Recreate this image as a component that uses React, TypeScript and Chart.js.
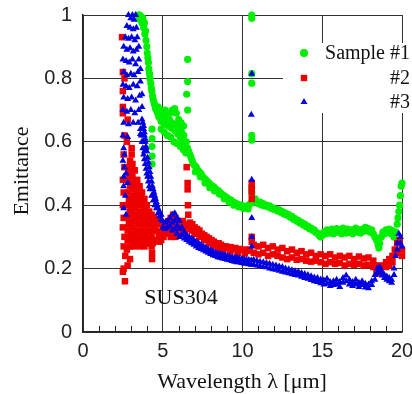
import React, { useEffect, useRef } from "react";
import { Chart, registerables } from "chart.js";
Chart.register(...registerables);

type P = [number, number];

const seriesNames = ["Sample #1", "#2", "#3"];
const xTickValues = [0, 5, 10, 15, 20];
const yTickValues = [0, 0.2, 0.4, 0.6, 0.8, 1];
const annotationText = "SUS304";
const xTitle = "Wavelength \u03bb [\u03bcm]";
const yTitle = "Emittance";

// Sample #1 (green circles)
const sample1Rise: P[] = [
  [3.45,1.0],[3.5,0.99],[3.55,1.0],[3.6,0.985],[3.65,0.995],[3.7,0.975],[3.75,0.99],[3.8,0.96],[3.85,0.975],[3.88,0.94],
  [3.92,0.95],[3.95,0.92],[4.0,0.9],[4.03,0.88],[4.07,0.865],[4.1,0.85],[4.13,0.83],[4.17,0.815],[4.2,0.8],[4.25,0.785],
  [4.28,0.77],[4.32,0.76],[4.36,0.745],[4.4,0.735],[4.45,0.725],[4.5,0.715],[4.55,0.705],[4.6,0.7],[4.68,0.69],[4.75,0.68],
  [4.83,0.675],[4.9,0.665],[4.98,0.67],[5.05,0.66],[5.12,0.675],[5.2,0.655],[5.28,0.665],[5.35,0.65],[5.42,0.67],[5.5,0.645],
  [5.58,0.66],[5.65,0.64],[5.72,0.655],[5.8,0.635],[5.88,0.65],[5.95,0.625],[6.02,0.64],[6.1,0.615],[6.18,0.63],[6.25,0.605],
  [6.32,0.62],[6.4,0.595],[6.48,0.6],[6.55,0.58],[6.62,0.57],[6.7,0.56],[6.78,0.55],[6.85,0.54],[6.92,0.53],[7.0,0.525],
  [4.7,0.71],[4.85,0.7],[5.0,0.69],[5.15,0.7],[5.3,0.685],[5.45,0.69],[5.6,0.7],[5.75,0.705],[5.85,0.69],[6.0,0.67],
  [6.15,0.66],[6.3,0.65],[4.9,0.64],[5.1,0.63],[5.3,0.62],[5.5,0.615],[5.7,0.6],[5.9,0.595],[6.1,0.585],[6.3,0.575],[6.45,0.565],
  [4.33,0.64],[4.33,0.61],[4.33,0.585],[4.33,0.555],[4.33,0.53],
  [6.56,0.86],[6.56,0.79],[6.5,0.75],[6.56,0.7],
];
const sample1Mid: P[] = [
  [7.1,0.52],[7.2,0.51],[7.3,0.505],[7.4,0.5],[7.5,0.49],[7.6,0.485],[7.7,0.48],[7.8,0.475],[7.9,0.47],[8.0,0.465],
  [8.1,0.46],[8.2,0.458],[8.3,0.452],[8.4,0.448],[8.5,0.445],[8.6,0.44],[8.7,0.435],[8.8,0.432],[8.9,0.428],[9.0,0.425],
  [9.1,0.42],[9.2,0.418],[9.3,0.415],[9.4,0.41],[9.5,0.408],[9.6,0.405],[9.7,0.403],[9.8,0.4],[9.9,0.4],[10.0,0.398],
  [10.1,0.396],[10.2,0.395],[10.3,0.397],[10.4,0.4],[10.5,0.405],
  [7.05,0.505],[7.35,0.49],[7.65,0.47],[7.95,0.455],[8.25,0.445],[8.55,0.435],[8.85,0.42],[9.15,0.41],[9.45,0.4],
  [9.75,0.395],[10.05,0.39],[10.35,0.388],
  [10.58,1.0],[10.58,0.99],[10.58,0.815],[10.58,0.785],[10.58,0.62],[10.58,0.605],[10.58,0.455],[10.58,0.44],
];
const sample1Tail: P[] = [
  [10.7,0.41],[10.8,0.42],[10.9,0.41],[11.0,0.405],[11.1,0.41],[11.2,0.4],[11.3,0.405],[11.4,0.398],[11.5,0.4],[11.6,0.395],
  [11.7,0.398],[11.8,0.39],[11.9,0.392],[12.0,0.386],[12.1,0.388],[12.2,0.382],[12.3,0.385],[12.4,0.378],[12.5,0.38],[12.6,0.372],
  [12.7,0.375],[12.8,0.368],[12.9,0.37],[13.0,0.362],[13.1,0.365],[13.2,0.356],[13.3,0.358],[13.4,0.35],[13.5,0.352],[13.6,0.344],
  [13.7,0.346],[13.8,0.338],[13.9,0.34],[14.0,0.332],[14.1,0.334],[14.2,0.326],[14.3,0.328],[14.4,0.32],[14.5,0.322],[14.6,0.314],
  [14.7,0.312],[14.8,0.305],[14.9,0.3],[15.0,0.305],[15.1,0.315],[15.2,0.31],[15.3,0.322],[15.4,0.312],[15.5,0.318],[15.6,0.325],
  [15.7,0.31],[15.8,0.318],[15.9,0.326],[16.0,0.315],[16.1,0.322],[16.2,0.31],[16.3,0.328],[16.4,0.318],[16.5,0.312],[16.6,0.325],
  [16.7,0.316],[16.8,0.322],[16.9,0.31],[17.0,0.32],[17.1,0.328],[17.2,0.315],[17.3,0.322],[17.4,0.312],[17.5,0.324],[17.6,0.318],
  [17.7,0.33],[17.8,0.32],[17.9,0.326],[18.0,0.315],[18.1,0.322],[18.2,0.31],[18.3,0.3],[18.4,0.29],[18.5,0.275],[18.55,0.265],
  [18.6,0.28],[18.7,0.3],[18.8,0.315],[18.9,0.31],[19.0,0.322],[19.1,0.315],[19.2,0.325],[19.3,0.31],[19.4,0.32],[19.5,0.3],
  [19.6,0.315],[19.7,0.34],[19.75,0.36],[19.8,0.38],[19.85,0.4],[19.9,0.43],[19.95,0.46],[20.0,0.47],
];

// Sample #2 (red squares)
const sample2Rise: P[] = [
  [2.45,0.93],[2.5,0.82],[2.6,0.8],[2.5,0.76],[2.5,0.71],[2.5,0.69],[2.8,0.67],[2.75,0.6],[2.6,0.62],[3.05,0.58],
  [3.05,0.56],[2.55,0.56],[2.6,0.52],[2.5,0.48],[2.55,0.44],[2.5,0.4],[2.55,0.36],[2.5,0.33],[2.6,0.3],[2.55,0.27],
  [2.65,0.24],[2.55,0.2],[2.5,0.19],[2.63,0.16],[2.8,0.21],[2.95,0.23],[2.75,0.26],[3.35,0.28],
  [2.8,0.52],[2.8,0.48],[2.8,0.44],[2.8,0.4],[2.8,0.36],[2.8,0.32],[2.8,0.29],
  [2.95,0.54],[2.95,0.5],[2.95,0.46],[2.95,0.42],[2.95,0.38],[2.95,0.34],[2.95,0.3],[2.95,0.27],
  [3.1,0.53],[3.1,0.49],[3.1,0.45],[3.1,0.41],[3.1,0.37],[3.1,0.33],[3.1,0.29],
  [3.25,0.51],[3.25,0.47],[3.25,0.43],[3.25,0.39],[3.25,0.35],[3.25,0.31],[3.25,0.28],
  [3.4,0.48],[3.4,0.44],[3.4,0.4],[3.4,0.36],[3.4,0.32],[3.4,0.29],
  [3.55,0.46],[3.55,0.42],[3.55,0.38],[3.55,0.34],[3.55,0.3],[3.55,0.27],
  [3.7,0.44],[3.7,0.4],[3.7,0.36],[3.7,0.32],[3.7,0.28],
  [3.85,0.42],[3.85,0.38],[3.85,0.34],[3.85,0.3],[3.85,0.27],
  [4.0,0.4],[4.0,0.36],[4.0,0.32],[4.0,0.29],
  [4.15,0.38],[4.15,0.35],[4.15,0.31],[4.15,0.28],
  [4.3,0.37],[4.3,0.34],[4.3,0.3],[4.3,0.27],
  [4.45,0.36],[4.45,0.33],[4.45,0.29],
  [4.6,0.35],[4.6,0.32],[4.6,0.29],
  [4.75,0.34],[4.75,0.31],[4.75,0.285],
  [4.9,0.345],[4.9,0.315],[4.9,0.29],
  [2.88,0.5],[2.88,0.42],[2.88,0.34],[3.02,0.47],[3.02,0.39],[3.02,0.31],[3.17,0.51],[3.17,0.43],[3.17,0.35],[3.17,0.27],
  [3.32,0.45],[3.32,0.37],[3.32,0.3],[3.47,0.42],[3.47,0.34],[3.47,0.28],[3.62,0.44],[3.62,0.36],[3.62,0.29],
  [3.77,0.38],[3.77,0.3],[3.92,0.4],[3.92,0.32],[3.92,0.28],[4.07,0.34],[4.07,0.3],[4.22,0.36],[4.22,0.29],[4.37,0.32],[4.37,0.28],
  [4.33,0.25],[4.33,0.23],
];
const sample2Mid: P[] = [
  [5.05,0.33],[5.05,0.3],[5.2,0.34],[5.2,0.31],[5.35,0.35],[5.35,0.32],[5.5,0.36],[5.5,0.33],[5.5,0.3],[5.65,0.37],
  [5.65,0.34],[5.65,0.31],[5.8,0.36],[5.8,0.33],[5.8,0.3],[5.95,0.35],[5.95,0.32],[6.1,0.34],[6.1,0.31],[6.25,0.35],
  [6.25,0.32],[6.4,0.34],[6.4,0.31],[6.55,0.33],[6.7,0.345],[6.7,0.325],[6.85,0.34],[6.85,0.32],[7.0,0.33],[7.0,0.31],
  [7.15,0.325],[7.3,0.32],[7.3,0.3],[7.45,0.31],[7.6,0.305],[7.6,0.29],[7.75,0.3],[7.9,0.295],[7.9,0.28],[8.05,0.29],
  [8.2,0.285],[8.2,0.27],[8.35,0.28],[8.5,0.28],[8.5,0.265],[8.65,0.275],[8.8,0.27],[8.8,0.258],[8.95,0.27],[9.1,0.265],
  [9.25,0.268],[9.25,0.255],[9.4,0.262],[9.55,0.265],[9.7,0.26],[9.7,0.25],[9.85,0.262],[10.0,0.258],[10.15,0.26],
  [10.15,0.248],[10.3,0.256],[10.45,0.26],
  [6.5,0.52],[6.56,0.47],[6.56,0.45],[6.58,0.4],[6.6,0.37],
  [10.58,0.47],[10.58,0.455],[10.58,0.44],[10.58,0.42],[10.58,0.3],[10.58,0.285],
];
const sample2Tail: P[] = [
  [10.7,0.275],[10.7,0.25],[11.0,0.27],[11.0,0.245],[11.3,0.275],[11.3,0.25],[11.6,0.265],[11.6,0.24],[11.9,0.27],[11.9,0.245],
  [12.2,0.26],[12.2,0.24],[12.5,0.265],[12.5,0.235],[12.8,0.255],[12.8,0.23],[13.1,0.26],[13.1,0.235],[13.4,0.25],[13.4,0.228],
  [13.7,0.255],[13.7,0.23],[14.0,0.245],[14.0,0.225],[14.3,0.25],[14.3,0.222],[14.6,0.24],[14.6,0.225],[14.9,0.245],[14.9,0.22],
  [15.2,0.24],[15.2,0.215],[15.5,0.245],[15.5,0.22],[15.8,0.235],[15.8,0.215],[16.1,0.24],[16.1,0.218],[16.4,0.235],[16.4,0.21],
  [16.7,0.24],[16.7,0.215],[17.0,0.23],[17.0,0.212],[17.3,0.238],[17.3,0.215],[17.6,0.232],[17.6,0.21],[17.9,0.235],[17.9,0.212],
  [18.2,0.225],[18.2,0.205],[18.4,0.21],[18.4,0.195],[18.6,0.2],[18.6,0.185],[18.8,0.21],[19.0,0.22],[19.0,0.205],[19.2,0.23],
  [19.2,0.21],[19.4,0.24],[19.4,0.22],[19.55,0.26],[19.7,0.28],[19.7,0.25],[19.85,0.29],[20.0,0.26],[20.0,0.24],
];

// Sample #3 (blue triangles)
const sample3Rise: P[] = [
  [2.85,1.0],[3.0,0.99],[3.1,1.0],[3.2,0.985],[3.3,1.0],[2.75,0.965],[2.95,0.96],[3.15,0.955],[3.35,0.96],[2.65,0.93],
  [2.85,0.925],[3.05,0.93],[3.25,0.92],[3.4,0.93],[2.55,0.9],[2.75,0.89],[2.95,0.895],[3.15,0.885],[3.35,0.89],[3.5,0.9],
  [2.5,0.86],[2.7,0.855],[2.9,0.85],[3.1,0.86],[3.3,0.845],[3.5,0.86],[2.55,0.82],[2.75,0.81],[3.0,0.815],[3.2,0.81],
  [3.45,0.82],[3.6,0.83],[2.5,0.78],[2.7,0.775],[2.9,0.77],[3.15,0.78],[3.4,0.775],[3.6,0.79],[2.55,0.74],[2.8,0.735],
  [3.05,0.74],[3.3,0.73],[3.55,0.745],[3.7,0.75],[2.5,0.7],[2.75,0.695],[3.0,0.7],[3.25,0.69],[3.5,0.7],[3.7,0.71],
  [2.55,0.66],[2.85,0.655],[3.15,0.66],[3.45,0.66],[3.7,0.67],[3.8,0.65],[2.5,0.62],[2.8,0.615],[3.6,0.625],[3.85,0.63],
  [2.55,0.58],[3.75,0.6],[3.9,0.61],[2.5,0.54],[2.7,0.5],[3.85,0.57],[3.95,0.58],[2.55,0.46],[2.65,0.43],[2.55,0.39],
  [2.7,0.37],[2.6,0.56],[2.6,0.52],[2.55,0.49],[2.8,0.47],
  [3.75,0.66],[3.8,0.64],[3.85,0.62],[3.9,0.6],[3.95,0.585],[4.0,0.57],[4.05,0.55],[4.1,0.535],[4.15,0.52],[4.2,0.505],
  [4.25,0.49],[4.3,0.475],[4.35,0.46],[4.4,0.45],[4.45,0.44],[4.5,0.43],[4.55,0.42],[4.6,0.41],[4.65,0.4],[4.7,0.39],
  [4.8,0.38],[4.9,0.37],[3.6,0.64],[3.65,0.62],[3.7,0.6],[3.75,0.58],[3.8,0.56],[3.85,0.545],[3.9,0.53],[3.95,0.515],
  [4.0,0.5],[4.05,0.49],[4.1,0.475],[4.15,0.46],[4.2,0.45],[4.3,0.43],[4.4,0.415],[4.5,0.4],[4.6,0.39],[4.7,0.375],
  [4.8,0.365],[4.9,0.355],
];
const sample3Mid: P[] = [
  [5.0,0.35],[5.0,0.33],[5.15,0.345],[5.15,0.325],[5.3,0.35],[5.3,0.33],[5.45,0.36],[5.45,0.335],[5.6,0.37],[5.6,0.345],
  [5.6,0.32],[5.75,0.375],[5.75,0.35],[5.75,0.325],[5.9,0.36],[5.9,0.335],[5.9,0.31],[6.05,0.35],[6.05,0.325],[6.05,0.3],
  [6.2,0.33],[6.2,0.305],[6.35,0.315],[6.35,0.295],[6.5,0.305],[6.5,0.29],[6.65,0.3],[6.65,0.285],[6.8,0.295],[6.8,0.28],
  [6.95,0.29],[6.95,0.275],[7.1,0.285],[7.1,0.27],[7.25,0.28],[7.25,0.265],[7.4,0.275],[7.4,0.262],[7.55,0.27],[7.55,0.258],
  [7.7,0.266],[7.7,0.254],[7.85,0.262],[7.85,0.25],[8.0,0.258],[8.0,0.246],[8.15,0.254],[8.15,0.242],[8.3,0.25],[8.3,0.24],
  [8.45,0.248],[8.45,0.236],[8.6,0.246],[8.6,0.234],[8.75,0.244],[8.75,0.232],[8.9,0.242],[8.9,0.23],[9.05,0.24],[9.05,0.228],
  [9.2,0.238],[9.2,0.226],[9.35,0.236],[9.35,0.224],[9.5,0.235],[9.5,0.222],[9.65,0.234],[9.65,0.22],[9.8,0.232],[9.8,0.22],
  [9.95,0.23],[9.95,0.218],[10.1,0.23],[10.1,0.216],[10.25,0.228],[10.25,0.215],[10.4,0.227],[10.4,0.214],[10.55,0.226],[10.55,0.212],
  [10.58,0.815],[10.55,0.685],[10.58,0.48],[10.58,0.36],[10.58,0.3],[10.58,0.27],
];
const sample3Tail: P[] = [
  [10.7,0.228],[10.7,0.212],[10.9,0.225],[10.9,0.21],[11.1,0.222],[11.1,0.208],[11.3,0.22],[11.3,0.205],[11.5,0.218],[11.5,0.204],
  [11.7,0.215],[11.7,0.2],[11.9,0.212],[11.9,0.198],[12.1,0.21],[12.1,0.196],[12.3,0.207],[12.3,0.193],[12.5,0.205],[12.5,0.19],
  [12.7,0.2],[12.7,0.188],[12.9,0.198],[12.9,0.185],[13.1,0.195],[13.1,0.182],[13.3,0.192],[13.3,0.18],[13.5,0.19],[13.5,0.178],
  [13.7,0.186],[13.7,0.174],[13.9,0.183],[13.9,0.17],[14.1,0.18],[14.1,0.168],[14.3,0.176],[14.3,0.164],[14.5,0.172],[14.5,0.16],
  [14.7,0.17],[14.7,0.158],[14.9,0.166],[14.9,0.154],[15.1,0.163],[15.1,0.15],[15.3,0.168],[15.3,0.152],[15.5,0.158],[15.5,0.145],
  [15.7,0.16],[15.7,0.148],[15.9,0.165],[15.9,0.15],[16.1,0.158],[16.1,0.142],[16.3,0.17],[16.3,0.155],[16.5,0.178],[16.5,0.16],
  [16.7,0.165],[16.7,0.15],[16.9,0.158],[16.9,0.145],[17.1,0.165],[17.1,0.15],[17.3,0.155],[17.3,0.142],[17.5,0.16],[17.5,0.148],
  [17.7,0.152],[17.7,0.14],[17.9,0.15],[17.9,0.138],[18.1,0.16],[18.1,0.148],[18.3,0.18],[18.3,0.165],[18.45,0.2],[18.45,0.185],
  [18.6,0.205],[18.6,0.19],[18.75,0.19],[18.75,0.178],[18.9,0.18],[18.9,0.17],[19.05,0.175],[19.05,0.165],[19.2,0.17],[19.2,0.16],
  [19.35,0.165],[19.35,0.155],[19.5,0.2],[19.5,0.18],[19.6,0.24],[19.7,0.28],[19.7,0.26],[19.8,0.31],[19.9,0.3],[19.9,0.28],[20.0,0.27],
];

const colors = ["#00ee00", "#ee0000", "#0000e0"];

function toXY(arr: P[]) {
  return arr.map(([x, y]) => ({ x, y }));
}

function drawMarker(ctx: CanvasRenderingContext2D, kind: number, x: number, y: number) {
  ctx.fillStyle = colors[kind];
  ctx.beginPath();
  if (kind === 0) {
    ctx.arc(x, y, 4, 0, Math.PI * 2);
  } else if (kind === 1) {
    ctx.rect(x - 3.2, y - 3.2, 6.4, 6.4);
  } else {
    ctx.moveTo(x, y - 4);
    ctx.lineTo(x + 3.5, y + 2);
    ctx.lineTo(x - 3.5, y + 2);
    ctx.closePath();
  }
  ctx.fill();
}

const overlayPlugin = {
  id: "overlay",
  beforeDraw(chart: any) {
    const ctx = chart.ctx;
    ctx.save();
    ctx.fillStyle = "#ffffff";
    ctx.fillRect(0, 0, chart.width, chart.height);
    ctx.restore();
  },
  afterDatasetsDraw(chart: any) {
    const { ctx, chartArea, scales } = chart;
    const xs = scales.x;
    ctx.save();
    ctx.strokeStyle = "#222";
    ctx.lineWidth = 1;
    for (let v = 1; v < 20; v++) {
      if (v % 5 === 0) continue;
      const px = Math.round(xs.getPixelForValue(v)) + 0.5;
      ctx.beginPath();
      ctx.moveTo(px, chartArea.bottom);
      ctx.lineTo(px, chartArea.bottom - 6);
      ctx.stroke();
    }
    ctx.fillStyle = "#ffffff";
    ctx.fillRect(283, 43, 129, 70);
    const rows = [53, 78, 102];
    ctx.font = '20px "Liberation Serif", "Times New Roman", serif';
    ctx.textAlign = "right";
    ctx.textBaseline = "middle";
    rows.forEach((ry, i) => {
      drawMarker(ctx, i, 304, ry);
      ctx.fillStyle = "#111";
      ctx.fillText(seriesNames[i], 410, ry + 1);
    });
    ctx.font = '22px "Liberation Serif", "Times New Roman", serif';
    ctx.textAlign = "center";
    ctx.fillStyle = "#111";
    ctx.fillText(annotationText, 181, 298);
    ctx.fillText(xTitle, 242, 382);
    ctx.translate(22, 171);
    ctx.rotate(-Math.PI / 2);
    ctx.fillText(yTitle, 0, 0);
    ctx.restore();
  },
};

export default function App() {
  const ref = useRef<HTMLCanvasElement | null>(null);
  useEffect(() => {
    document.body.style.margin = "0";
    if (!ref.current) return;
    const chart = new Chart(ref.current, {
      type: "scatter",
      data: {
        datasets: [
          {
            label: seriesNames[0],
            data: toXY([...sample1Rise, ...sample1Mid, ...sample1Tail]),
            pointStyle: "circle",
            pointRadius: 3.6,
            backgroundColor: colors[0],
            borderWidth: 0,
            order: 3,
            clip: false as any,
          },
          {
            label: seriesNames[1],
            data: toXY([...sample2Rise, ...sample2Mid, ...sample2Tail]),
            pointStyle: "rect",
            pointRadius: 4.6,
            backgroundColor: colors[1],
            borderWidth: 0,
            order: 2,
            clip: false as any,
          },
          {
            label: seriesNames[2],
            data: toXY([...sample3Rise, ...sample3Mid, ...sample3Tail]),
            pointStyle: "triangle",
            pointRadius: 4,
            backgroundColor: colors[2],
            borderWidth: 0,
            order: 1,
            clip: false as any,
          },
        ],
      },
      options: {
        animation: false,
        responsive: false,
        events: [],
        layout: { padding: { top: 15, right: 10, left: 0, bottom: 0 } },
        plugins: { legend: { display: false }, tooltip: { enabled: false } },
        scales: {
          x: {
            type: "linear",
            min: 0,
            max: 20,
            afterFit: (s: any) => {
              s.height = 62;
              s.paddingLeft = 0; s.paddingRight = 0; s.paddingTop = 0; s.paddingBottom = 0;
            },
            afterBuildTicks: (s: any) => { s.ticks = xTickValues.map((v) => ({ value: v })); },
            ticks: {
              padding: 7,
              color: "#222",
              font: { family: '"Liberation Sans", Arial, sans-serif', size: 20 },
              maxRotation: 0,
              callback: (v: any) => String(v),
            },
            grid: { color: "#333", lineWidth: 1, drawTicks: false },
            border: { display: true, color: "#222", width: 1.5 },
          },
          y: {
            type: "linear",
            min: 0,
            max: 1,
            afterFit: (s: any) => {
              s.width = 83;
              s.paddingLeft = 0; s.paddingRight = 0; s.paddingTop = 0; s.paddingBottom = 0;
            },
            afterBuildTicks: (s: any) => { s.ticks = yTickValues.map((v) => ({ value: v })); },
            ticks: {
              padding: 11,
              color: "#222",
              font: { family: '"Liberation Sans", Arial, sans-serif', size: 20 },
              callback: (v: any) => String(v),
            },
            grid: { color: "#333", lineWidth: 1, drawTicks: false },
            border: { display: true, color: "#222", width: 1.5 },
          },
        },
      },
      plugins: [overlayPlugin],
    } as any);
    return () => chart.destroy();
  }, []);
  return (
    <div style={{ position: "absolute", left: 0, top: 0, width: 412, height: 394 }}>
      <canvas ref={ref} width={412} height={394} style={{ width: 412, height: 394 }} />
    </div>
  );
}
